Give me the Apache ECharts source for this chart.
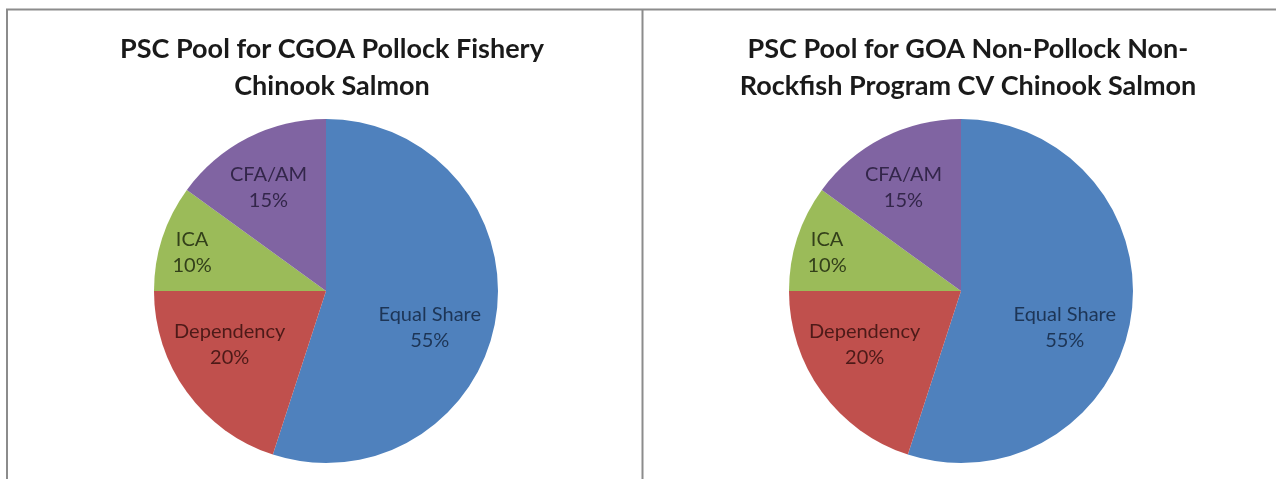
<!DOCTYPE html>
<html>
<head>
<meta charset="utf-8">
<title>PSC Pool Chinook Salmon</title>
<script src="https://cdn.jsdelivr.net/npm/echarts@6/dist/echarts.min.js"></script>
<style>
  html, body { margin: 0; padding: 0; background: #ffffff; }
  #chart { width: 1276px; height: 479px; }
</style>
</head>
<body>
<div id="chart"></div>
<script>
// Allocation of the Chinook salmon PSC pool, in percent
const categories = ['Equal Share', 'Dependency', 'ICA', 'CFA/AM'];
const cgoaPollockShares = [55, 20, 10, 15];
const nonPollockShares = [55, 20, 10, 15];

const titleCgoa = 'PSC Pool for CGOA Pollock Fishery\nChinook Salmon';
const titleNonPollock = 'PSC Pool for GOA Non-Pollock Non-\nRockfish Program CV Chinook Salmon';

// Styling
const sliceColors = ['#4f81bd', '#c0504d', '#9bbb59', '#8064a2'];
const labelColors = ['#1d3556', '#4d1a18', '#33401a', '#33264a'];
const labelRadius = [0.64, 0.64, 0.81, 0.69];   // fraction of the pie radius for each label
const labelAngleShift = [10.5, 7, -2, -2];      // degrees, clockwise from the slice middle
const R = 172;
const pieCenters = [[326, 291], [961, 291]];
const FONT = 'Lato, "Open Sans", "Noto Sans", sans-serif';

function midAngles(values) {
  const total = values.reduce((a, b) => a + b, 0);
  let acc = 0;
  return values.map(v => {
    const m = (acc + v / 2) / total * Math.PI * 2;
    acc += v;
    return m;
  });
}
const mids = [midAngles(cgoaPollockShares), midAngles(nonPollockShares)];

function pieSeries(values, idx) {
  return {
    type: 'pie',
    center: pieCenters[idx],
    radius: [0, R],
    startAngle: 90,
    clockwise: true,
    silent: true,
    animation: false,
    itemStyle: { borderWidth: 0 },
    label: {
      show: true,
      position: 'inside',
      formatter: p => p.name + '\n' + p.value + '%',
      fontFamily: FONT,
      fontSize: 20,
      lineHeight: 26,
      align: 'center'
    },
    labelLine: { show: false },
    labelLayout: p => {
      const i = p.dataIndex;
      const m = mids[p.seriesIndex][i];
      const a = m + labelAngleShift[i] * Math.PI / 180;
      const c = pieCenters[p.seriesIndex];
      const d = labelRadius[i] * R;
      return {
        x: c[0] + d * Math.sin(a),
        y: c[1] - d * Math.cos(a),
        align: 'center',
        verticalAlign: 'middle'
      };
    },
    data: categories.map((name, i) => ({
      name: name,
      value: values[i],
      itemStyle: { color: sliceColors[i] },
      label: { color: labelColors[i] }
    }))
  };
}

const chart = echarts.init(document.getElementById('chart'), null, { renderer: 'canvas' });
const titleStyle = { fontFamily: FONT, fontWeight: 'bold', fontSize: 27, lineHeight: 37, color: '#1a1a1a' };
chart.setOption({
  backgroundColor: '#ffffff',
  animation: false,
  title: [
    { text: titleCgoa, left: 327, top: 26, textAlign: 'center', textStyle: titleStyle },
    { text: titleNonPollock, left: 963, top: 26, textAlign: 'center', textStyle: titleStyle }
  ],
  graphic: [
    { type: 'line', shape: { x1: 6, y1: 9.5, x2: 1276, y2: 9.5 }, style: { stroke: '#8c8c8c', lineWidth: 2 } },
    { type: 'line', shape: { x1: 7, y1: 9, x2: 7, y2: 479 }, style: { stroke: '#8c8c8c', lineWidth: 2 } },
    { type: 'line', shape: { x1: 642.5, y1: 9, x2: 642.5, y2: 479 }, style: { stroke: '#8c8c8c', lineWidth: 2 } }
  ],
  series: [pieSeries(cgoaPollockShares, 0), pieSeries(nonPollockShares, 1)]
});
</script>
</body>
</html>
